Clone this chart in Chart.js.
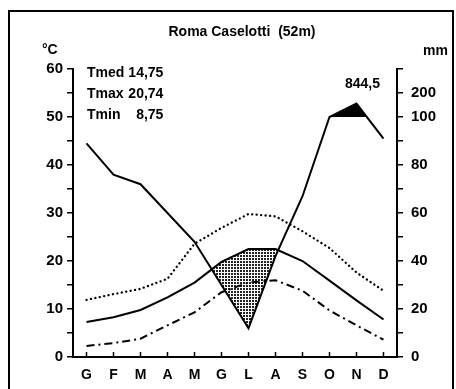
<!DOCTYPE html>
<html lang="it">
<head>
  <meta charset="UTF-8">
  <title>Roma Caselotti (52m)</title>
  <script src="https://cdn.jsdelivr.net/npm/chart.js"></script>
  <style>
    body { margin: 0; background: #fff; font-family: "Liberation Sans", Arial, sans-serif; }
    #wrap { position: relative; width: 456px; height: 389px; overflow: hidden; }
    #cornice {
      position: absolute; left: 8px; top: 10px; width: 446px; height: 400px;
      border: 2.5px solid #000; box-sizing: border-box;
    }
    canvas { position: absolute; left: 0; top: 0; }
    .txt { position: absolute; font-weight: bold; color: #000; white-space: pre; line-height: 1; }
    #titolo { left: 0; width: 484px; top: 24px; text-align: center; font-size: 14px; }
    #stats { position: absolute; left: 87px; top: 62px; font-weight: bold; font-size: 14px; line-height: 21px; }
    #stats td { padding: 0; }
    #stats td.n { text-align: right; padding-left: 4px; }
  </style>
</head>
<body>
  <div id="wrap">
    <div id="cornice"></div>
    <canvas id="grafico" width="456" height="389"></canvas>
    <div class="txt" id="titolo">Roma Caselotti  (52m)</div>
    <div class="txt" style="left:42px; top:42px; font-size:14px;">°C</div>
    <div class="txt" style="left:423px; top:43px; font-size:14px;">mm</div>
    <div class="txt" style="left:345px; top:76px; font-size:14px;">844,5</div>
    <table id="stats" cellspacing="0">
      <tr><td>Tmed</td><td class="n">14,75</td></tr>
      <tr><td>Tmax</td><td class="n">20,74</td></tr>
      <tr><td>Tmin</td><td class="n">8,75</td></tr>
    </table>
  </div>

  <script>
    const mesi = ['G', 'F', 'M', 'A', 'M', 'G', 'L', 'A', 'S', 'O', 'N', 'D'];
    const tMed = [7.3, 8.3, 9.8, 12.4, 15.5, 19.8, 22.5, 22.5, 20.0, 15.9, 11.8, 7.8];
    const tMax = [11.9, 13.1, 14.2, 16.3, 23.6, 26.9, 29.8, 29.3, 26.2, 22.7, 17.6, 13.8];
    const tMin = [2.3, 2.9, 3.8, 6.6, 9.3, 13.5, 15.5, 16.0, 13.8, 9.7, 6.6, 3.6];
    const pioggia = [89, 76, 72, 60, 48, 30, 12, 42, 67, 100, 156, 91]; // mm
    const tickTemp = [0, 10, 20, 30, 40, 50, 60];
    const tickMm = [0, 20, 40, 60, 80, 100, 200];

    // scala Walter-Lieth: 10 °C = 20 mm, oltre 100 mm compressa 1/10
    function mmInScala(v) { return v <= 100 ? v / 2 : 50 + (v - 100) / 20; }
    const pioggiaScala = pioggia.map(mmInScala);

    // retino a puntini per il periodo arido
    const pc = document.createElement('canvas');
    pc.width = 3; pc.height = 3;
    const g = pc.getContext('2d');
    g.fillStyle = '#fff'; g.fillRect(0, 0, 3, 3);
    g.fillStyle = '#222'; g.fillRect(0, 0, 2, 2);
    const retino = g.createPattern(pc, 'repeat');

    const tacche = {
      id: 'tacche',
      afterDraw(chart) {
        const ctx = chart.ctx, x = chart.scales.x, b = chart.chartArea.bottom;
        ctx.save();
        ctx.strokeStyle = '#000';
        ctx.lineWidth = 1.5;
        mesi.forEach((m, i) => {
          const px = x.getPixelForValue(i);
          ctx.beginPath(); ctx.moveTo(px, b); ctx.lineTo(px, b - 5); ctx.stroke();
        });
        ctx.restore();
      }
    };

    const font = { family: '"Liberation Sans", Arial, sans-serif', weight: 'bold', size: 14 };
    const fontNum = { family: '"Liberation Sans", Arial, sans-serif', weight: 'bold', size: 15 };

    new Chart(document.getElementById('grafico'), {
      type: 'line',
      data: {
        labels: mesi,
        datasets: [{
          label: 'Tmed',
          data: tMed,
          borderColor: '#000',
          borderWidth: 2,
          yAxisID: 'y'
        }, {
          label: 'Tmax',
          data: tMax,
          borderColor: '#000',
          borderWidth: 2.3,
          borderDash: [0.1, 4.4],
          borderCapStyle: 'round',
          yAxisID: 'y'
        }, {
          label: 'Tmin',
          data: tMin,
          borderColor: '#000',
          borderWidth: 2,
          borderDash: [8, 4, 2, 4],
          yAxisID: 'y'
        }, {
          label: 'Precipitazioni',
          data: pioggiaScala,
          borderColor: '#000',
          borderWidth: 2,
          fill: { target: 0, above: 'rgba(0,0,0,0)', below: retino },
          yAxisID: 'y'
        }, {
          label: 'Oltre 100 mm',
          data: pioggiaScala,
          borderColor: 'rgba(0,0,0,0)',
          borderWidth: 0,
          fill: { target: { value: 50 }, above: '#000', below: 'rgba(0,0,0,0)' },
          yAxisID: 'y'
        }]
      },
      options: {
        responsive: false,
        animation: false,
        devicePixelRatio: 1,
        layout: { padding: { top: 69, left: 0, right: 0, bottom: 0 } },
        elements: { point: { radius: 0 }, line: { tension: 0 } },
        plugins: { legend: { display: false }, tooltip: { enabled: false } },
        scales: {
          x: {
            offset: true,
            grid: { display: false, drawTicks: false },
            border: { display: true, color: '#000', width: 2 },
            ticks: { color: '#000', font: font, padding: 10 },
            afterFit(s) { s.height = 32; }
          },
          y: {
            position: 'left',
            min: 0, max: 60,
            ticks: {
              stepSize: 5, color: '#000', font: fontNum, padding: 4,
              callback: v => tickTemp.includes(v) ? String(v) : ''
            },
            grid: { drawOnChartArea: false, tickLength: 6, color: '#000', lineWidth: 1.5 },
            border: { color: '#000', width: 2 },
            afterFit(s) { s.width = 73; }
          },
          y2: {
            position: 'right',
            min: 0, max: 60,
            ticks: {
              stepSize: 5, color: '#000', font: fontNum, padding: 8,
              callback: v => {
                const i = tickMm.findIndex(m => mmInScala(m) === v);
                return i >= 0 ? String(tickMm[i]) : '';
              }
            },
            grid: { drawOnChartArea: false, tickLength: 6, color: '#000', lineWidth: 1.5 },
            border: { color: '#000', width: 2 },
            afterFit(s) { s.width = 59; }
          }
        }
      },
      plugins: [tacche]
    });
  </script>
</body>
</html>
